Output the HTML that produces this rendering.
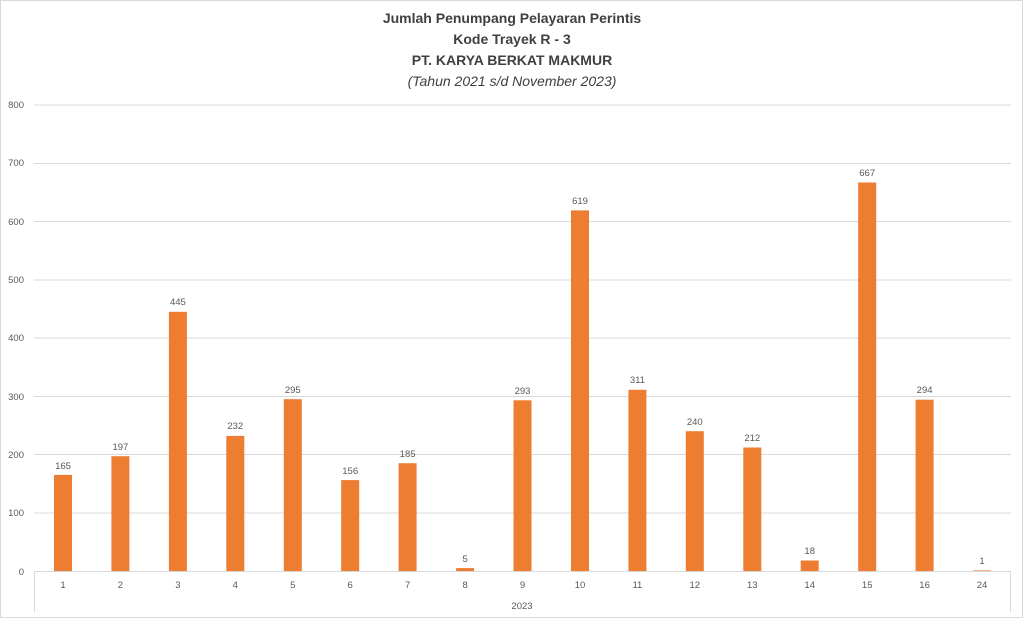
<!DOCTYPE html>
<html><head><meta charset="utf-8"><style>
body{margin:0;background:#fff}
svg{display:block;font-family:"Liberation Sans",sans-serif}
.t{font-size:9.5px;fill:#595959;text-anchor:middle}
.y{font-size:9.5px;fill:#595959;text-anchor:end}
.g{stroke:#d9d9d9;stroke-width:1}
</style></head><body>
<svg width="1024" height="619" viewBox="0 0 1024 619">
<rect x="0.5" y="0.5" width="1022" height="617" fill="#fff" stroke="#d9d9d9"/>
<g font-weight="bold" font-size="14" fill="#404040" text-anchor="middle">
<text x="512" y="23">Jumlah Penumpang Pelayaran Perintis</text>
<text x="512" y="44">Kode Trayek R - 3</text>
<text x="512" y="65">PT. KARYA BERKAT MAKMUR</text>
</g>
<text x="512" y="86" font-size="14" font-style="italic" fill="#404040" text-anchor="middle">(Tahun 2021 s/d November 2023)</text>
<g class="g">
<line x1="34" x2="1011" y1="105" y2="105"/><line x1="34" x2="1011" y1="163.5" y2="163.5"/>
<line x1="34" x2="1011" y1="221.5" y2="221.5"/><line x1="34" x2="1011" y1="280" y2="280"/>
<line x1="34" x2="1011" y1="338" y2="338"/><line x1="34" x2="1011" y1="396.5" y2="396.5"/>
<line x1="34" x2="1011" y1="454.5" y2="454.5"/><line x1="34" x2="1011" y1="513" y2="513"/>
<line x1="34" x2="1011" y1="571.5" y2="571.5"/>
<line x1="34.5" x2="34.5" y1="571" y2="612"/><line x1="1010.5" x2="1010.5" y1="571" y2="612"/>
</g>
<g class="y">
<text x="24" y="108">800</text><text x="24" y="166">700</text><text x="24" y="225">600</text>
<text x="24" y="283">500</text><text x="24" y="341">400</text><text x="24" y="400">300</text>
<text x="24" y="458">200</text><text x="24" y="516">100</text><text x="24" y="575">0</text>
</g>
<g fill="#ed7d31">
<rect x="54" y="474.9" width="18" height="96.1"/>
<rect x="111.4" y="456.2" width="18" height="114.8"/>
<rect x="168.9" y="311.8" width="18" height="259.2"/>
<rect x="226.3" y="435.9" width="18" height="135.1"/>
<rect x="283.8" y="399.2" width="18" height="171.8"/>
<rect x="341.2" y="480.1" width="18" height="90.9"/>
<rect x="398.6" y="463.2" width="18" height="107.8"/>
<rect x="456.1" y="568.1" width="18" height="2.9"/>
<rect x="513.5" y="400.3" width="18" height="170.7"/>
<rect x="571" y="210.4" width="18" height="360.6"/>
<rect x="628.4" y="389.8" width="18" height="181.2"/>
<rect x="685.8" y="431.2" width="18" height="139.8"/>
<rect x="743.3" y="447.5" width="18" height="123.5"/>
<rect x="800.7" y="560.5" width="18" height="10.5"/>
<rect x="858.2" y="182.5" width="18" height="388.5"/>
<rect x="915.6" y="399.7" width="18" height="171.3"/>
<rect x="973" y="570.4" width="18" height="0.6"/>
</g>
<g class="t">
<text x="63" y="469">165</text><text x="120.4" y="450">197</text><text x="177.9" y="305">445</text>
<text x="235.3" y="429">232</text><text x="292.8" y="393">295</text><text x="350.2" y="474">156</text>
<text x="407.6" y="457">185</text><text x="465.1" y="562">5</text><text x="522.5" y="394">293</text>
<text x="580" y="204">619</text><text x="637.4" y="383">311</text><text x="694.8" y="425">240</text>
<text x="752.3" y="441">212</text><text x="809.7" y="554">18</text><text x="867.2" y="176">667</text>
<text x="924.6" y="393">294</text><text x="982" y="564">1</text>
</g>
<g class="t">
<text x="63" y="588">1</text><text x="120.4" y="588">2</text><text x="177.9" y="588">3</text>
<text x="235.3" y="588">4</text><text x="292.8" y="588">5</text><text x="350.2" y="588">6</text>
<text x="407.6" y="588">7</text><text x="465.1" y="588">8</text><text x="522.5" y="588">9</text>
<text x="580" y="588">10</text><text x="637.4" y="588">11</text><text x="694.8" y="588">12</text>
<text x="752.3" y="588">13</text><text x="809.7" y="588">14</text><text x="867.2" y="588">15</text>
<text x="924.6" y="588">16</text><text x="982" y="588">24</text>
<text x="522" y="609">2023</text>
</g>
</svg>
</body></html>
